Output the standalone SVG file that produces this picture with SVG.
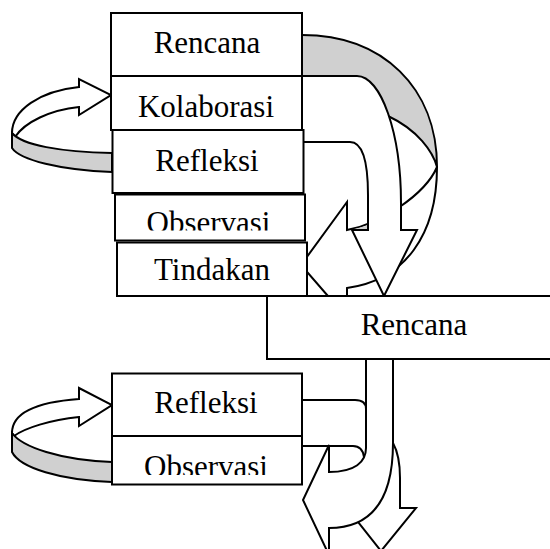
<svg xmlns="http://www.w3.org/2000/svg" width="550" height="549" viewBox="0 0 550 549">
<style>
.box{fill:#fff;stroke:#000;stroke-width:2}
.arr{fill:#fff;stroke:#000;stroke-width:2;stroke-linejoin:miter}
.back{fill:#d0d0d0;stroke:#000;stroke-width:2;stroke-linejoin:miter}
.ln{fill:none;stroke:#000;stroke-width:2}
.lbl{font-family:"Liberation Serif","Times New Roman",serif;font-size:31px;fill:#000;text-anchor:middle}
</style>
<defs>
<clipPath id="clipObs1"><rect x="115" y="194" width="190" height="36.5"/></clipPath>
<clipPath id="clipObs2"><rect x="112" y="436" width="190" height="39"/></clipPath>
</defs>
<rect x="0" y="0" width="550" height="549" fill="#fff"/>
<g id="connectors">
  <!-- upper left loop -->
  <path class="arr" d="M12,133 C12,110 40,91 79,87 L79,79 L111,95 L79,115 L79,107 C50,110 25,122 15,137 Z"/>
  <path class="back" d="M12,133 C22,145 60,152 112,153 L112,172 C60,170 20,160 12,148 Z"/>
  <!-- lower left loop -->
  <path class="arr" d="M12,433 C12,412 38,402 79,399 L79,388 L112,405 L79,426 L79,417 C50,420 25,428 14,436 Z"/>
  <path class="back" d="M12,433 C22,447 60,460 112,462 L112,482 C60,480 20,468 12,452 Z"/>
  <!-- big curved arrow: back (gray) -->
  <path class="back" d="M298,35 L302,35 C383,35 437,88 437,167 C433,152 418,130 388,116 L370,100 L298,80 Z"/>
  <!-- big curved arrow: front with head pointing left -->
  <path class="arr" d="M437,167 C437,235 405,280 347,288 L347,318 L301,265 L347,202 L347,230 C380,224 425,195 437,167 Z"/>
  <path d="M352,229.5 L368,225.5 L368,230 Z" fill="#d0d0d0"/>
  <!-- down arrow -->
  <path class="arr" d="M298,76 L357,76 C381,76 401,133 401,203 L401,230 L417,230 L384,296 L352,230 L368,230 L368,195 C368,160 362,142 350,142 L298,142 Z"/>
  <!-- lower bars -->
  <path class="ln" d="M302,400 L355,400 C362,400 366,403 366,409"/>
  <path class="ln" d="M302,446 L353,446 C359,446 363,450 364,457"/>
  <!-- lower right down arrow -->
  <path class="arr" d="M393,443 C398,452 400,462 400,478 L400,508 L416,508 L381,551 L347,508 L364,508 L370,443 Z"/>
  <!-- J arrow -->
  <path class="arr" d="M366,355 L366,448 C366,462 355,472 329,472 L329,445 L303,500 L329,555 L329,528 C372,528 393,500 393,443 L393,355 Z"/>
</g>
<g id="node-rencana1">
  <rect class="box" x="111" y="13" width="191" height="63"/>
  <text class="lbl" x="207" y="53">Rencana</text>
</g>
<g id="node-kolaborasi">
  <rect class="box" x="111" y="76" width="191" height="54"/>
  <text class="lbl" x="206" y="117">Kolaborasi</text>
</g>
<g id="node-refleksi1">
  <rect class="box" x="112.5" y="130" width="191" height="63"/>
  <text class="lbl" x="207" y="171">Refleksi</text>
</g>
<g id="node-observasi1">
  <rect class="box" x="115" y="194.5" width="190" height="46"/>
  <text class="lbl" x="208.5" y="232.5" clip-path="url(#clipObs1)">Observasi</text>
</g>
<g id="node-tindakan">
  <rect class="box" x="117" y="242.5" width="190" height="53.5"/>
  <text class="lbl" x="212" y="280">Tindakan</text>
</g>
<g id="node-rencana2">
  <rect class="box" x="267" y="296" width="290" height="63"/>
  <text class="lbl" x="414" y="335">Rencana</text>
</g>
<g id="node-refleksi2">
  <rect class="box" x="112" y="373.5" width="190" height="62.5"/>
  <text class="lbl" x="206" y="413">Refleksi</text>
</g>
<g id="node-observasi2">
  <rect class="box" x="112" y="436" width="190" height="48.5"/>
  <text class="lbl" x="206" y="477" clip-path="url(#clipObs2)">Observasi</text>
</g>
</svg>
